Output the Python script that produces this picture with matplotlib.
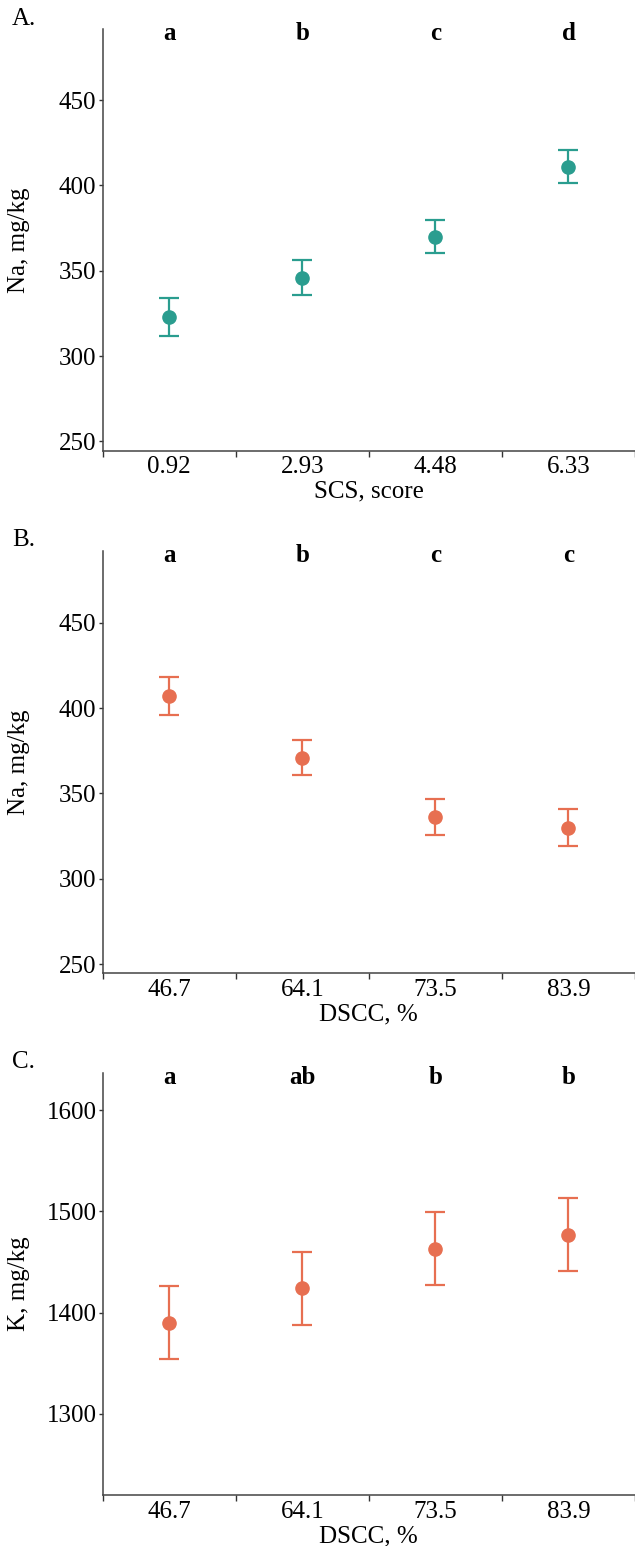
import matplotlib
matplotlib.use("Agg")
import matplotlib.pyplot as plt
import matplotlib.transforms as mtransforms

plt.rcParams['font.family'] = ['Liberation Serif', 'DejaVu Serif']

# ---- data ----
scs_labels = ["0.92", "2.93", "4.48", "6.33"]
dscc_labels = ["46.7", "64.1", "73.5", "83.9"]

na_scs_mean = [323, 346, 370, 411]
na_scs_err = [11, 10, 9.5, 9.5]
na_scs_letters = ["a", "b", "c", "d"]

na_dscc_mean = [407, 371, 336, 330]
na_dscc_err = [11, 10.5, 10.5, 11]
na_dscc_letters = ["a", "b", "c", "c"]

k_dscc_mean = [1390, 1424, 1463, 1477]
k_dscc_err = [36, 36, 36, 36]
k_dscc_letters = ["a", "ab", "b", "b"]

teal = "#2A9D8F"
orange = "#E76F51"

W, H = 635, 1546
fig = plt.figure(figsize=(W / 100, H / 100), dpi=100)

def px_axes(top, bottom, left=102.7, right=635):
    return fig.add_axes([left / W, 1 - bottom / H, (right - left) / W, (bottom - top) / H])

panels = [
    dict(top=29.3, bottom=450.7, labels=scs_labels, mean=na_scs_mean, err=na_scs_err,
         letters=na_scs_letters, color=teal, ylim=(244.5, 491.5), yticks=[250, 300, 350, 400, 450],
         ylabel="Na, mg/kg", xlabel="SCS, score", tag="A.", tag_y=19),
    dict(top=551, bottom=973, labels=dscc_labels, mean=na_dscc_mean, err=na_dscc_err,
         letters=na_dscc_letters, color=orange, ylim=(244.8, 492), yticks=[250, 300, 350, 400, 450],
         ylabel="Na, mg/kg", xlabel="DSCC, %", tag="B.", tag_y=540),
    dict(top=1073, bottom=1495, labels=dscc_labels, mean=k_dscc_mean, err=k_dscc_err,
         letters=k_dscc_letters, color=orange, ylim=(1219.5, 1637), yticks=[1300, 1400, 1500, 1600],
         ylabel="K, mg/kg", xlabel="DSCC, %", tag="C.", tag_y=1062),
]

FS = 18

for p in panels:
    ax = px_axes(p["top"], p["bottom"])
    x = [i + 0.5 for i in range(len(p["labels"]))]
    ax.errorbar(x, p["mean"], yerr=p["err"], fmt="o", color=p["color"], ecolor=p["color"],
                markersize=9.5, elinewidth=1.6, capsize=7.5, capthick=1.6)
    ax.set_xlim(0, 4)
    ax.set_ylim(*p["ylim"])
    ax.set_yticks(p["yticks"])
    ax.set_xticks(x)
    ax.set_xticklabels(p["labels"])
    ax.set_xticks([0, 1, 2, 3, 4], minor=True)
    ax.tick_params(axis="x", which="major", length=0, labelsize=FS, pad=4)
    ax.tick_params(axis="x", which="minor", length=4, width=1, color="#333333")
    ax.tick_params(axis="y", length=3, width=1, color="#333333", labelsize=FS, pad=1.5)
    for s in ["top", "right"]:
        ax.spines[s].set_visible(False)
    for s in ["left", "bottom"]:
        ax.spines[s].set_color("#444444")
        ax.spines[s].set_linewidth(1.1)
    ax.set_ylabel(p["ylabel"], fontsize=FS)
    ax.yaxis.set_label_coords(-0.137, 0.5)
    ax.set_xlabel(p["xlabel"], fontsize=FS)
    ax.xaxis.set_label_coords(0.5, -0.071)
    trans = mtransforms.blended_transform_factory(ax.transData, ax.transAxes)
    for xi, lt in zip(x, p["letters"]):
        ax.text(xi, 0.99, lt, transform=trans, ha="center", va="center",
                fontsize=FS, fontweight="bold")
    ax.patch.set_alpha(0)
    fig.text(12 / W, 1 - p["tag_y"] / H, p["tag"], ha="left", va="center", fontsize=FS)

fig.savefig("out.png", dpi=100)
